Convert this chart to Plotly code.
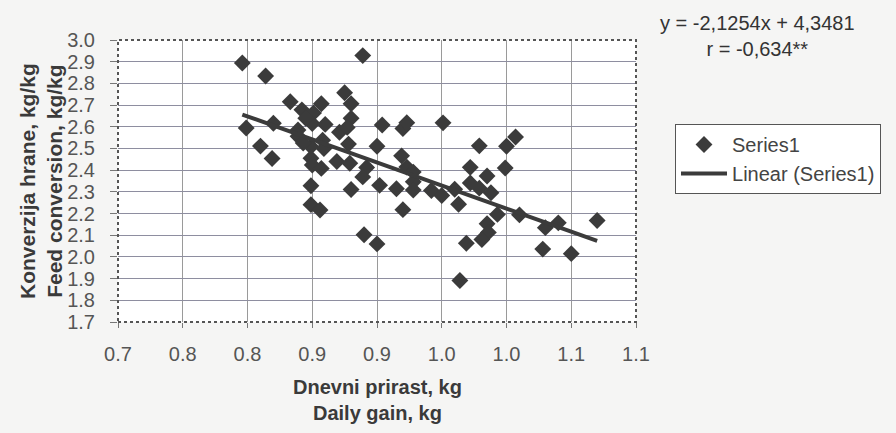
import plotly.graph_objects as go

# Daily gain (kg) and feed conversion (kg/kg)
daily_gain = [0.796, 0.814, 0.833, 0.799, 0.820, 0.810, 0.819, 0.839, 0.842, 0.857,
              0.851, 0.839, 0.850, 0.860, 0.875, 0.880, 0.880, 0.889, 0.871, 0.877,
              0.858, 0.849, 0.859, 0.878, 0.849, 0.850, 0.857, 0.869, 0.879, 0.892,
              0.889, 0.900, 0.904, 0.920, 0.923, 0.951, 0.919, 0.923, 0.928, 0.928,
              0.915, 0.902, 0.928, 0.942, 0.950, 0.849, 0.880, 0.849, 0.856, 0.920,
              0.890, 0.900, 0.979, 1.000, 1.007, 0.972, 0.999, 0.985, 0.972, 0.979,
              0.988, 0.960, 0.963, 0.993, 1.010, 0.985, 0.986, 0.981, 0.969, 1.030,
              1.040, 1.070, 1.028, 1.050, 0.964, 0.845, 0.843]
feed_conversion = [2.894, 2.834, 2.715, 2.594, 2.616, 2.511, 2.454, 2.585, 2.678, 2.706,
                   2.664, 2.556, 2.615, 2.611, 2.757, 2.706, 2.639, 2.928, 2.575, 2.597,
                   2.538, 2.509, 2.500, 2.520, 2.455, 2.424, 2.408, 2.440, 2.432, 2.412,
                   2.369, 2.510, 2.608, 2.592, 2.619, 2.618, 2.466, 2.414, 2.391, 2.346,
                   2.314, 2.330, 2.308, 2.306, 2.283, 2.328, 2.311, 2.241, 2.216, 2.218,
                   2.102, 2.060, 2.512, 2.510, 2.553, 2.413, 2.410, 2.373, 2.341, 2.317,
                   2.296, 2.312, 2.243, 2.196, 2.194, 2.153, 2.113, 2.080, 2.063, 2.135,
                   2.157, 2.168, 2.036, 2.015, 1.891, 2.639, 2.525]

# Regression shown on the chart
slope = -2.1254
intercept = 4.3481

x_tickvals = [0.70, 0.75, 0.80, 0.85, 0.90, 0.95, 1.00, 1.05, 1.10]
x_ticktext = ["0.7", "0.8", "0.8", "0.9", "0.9", "1.0", "1.0", "1.1", "1.1"]

trend_x = [min(daily_gain), max(daily_gain)]
trend_y = [slope * v + intercept for v in trend_x]

FONT = "Arial, Liberation Sans, sans-serif"
MARK = "#3b3b3b"

fig = go.Figure()
fig.add_trace(go.Scatter(
    x=daily_gain, y=feed_conversion, mode="markers", name="Series1",
    legendgroup="a",
    marker=dict(symbol="diamond", size=13, color=MARK, line=dict(width=0)),
))
fig.add_trace(go.Scatter(
    x=trend_x, y=trend_y, mode="lines", name="Linear (Series1)",
    legendgroup="b",
    line=dict(color=MARK, width=4),
))

fig.update_layout(
    width=896, height=433,
    margin=dict(l=118, r=260, t=40, b=111),
    paper_bgcolor="#f5f5f4",
    plot_bgcolor="#ffffff",
    font=dict(family=FONT, color="#444444"),
    showlegend=True,
    legend=dict(
        x=1.0753, y=0.702, xanchor="left", yanchor="top",
        bgcolor="#ffffff", bordercolor="#555555", borderwidth=1,
        font=dict(size=20, color="#444444"),
        tracegroupgap=0, itemwidth=46,
    ),
    xaxis=dict(
        range=[0.70, 1.10], tickvals=x_tickvals, ticktext=x_ticktext,
        showgrid=True, gridcolor="#9a9a9a", gridwidth=1,
        ticks="outside", ticklen=5, tickcolor="#777777",
        tickfont=dict(size=20, color="#555555"),
        ticklabelstandoff=9,
        zeroline=False, showline=False,
    ),
    yaxis=dict(
        range=[1.7, 3.0], dtick=0.1, tick0=1.7, tickformat=".1f",
        showgrid=True, gridcolor="#8e8ea0", gridwidth=1,
        ticks="outside", ticklen=7, tickcolor="#777777",
        tickfont=dict(size=20, color="#555555"),
        ticklabelstandoff=11,
        zeroline=False, showline=False,
    ),
    shapes=[dict(type="rect", xref="paper", yref="paper", x0=0, y0=0, x1=1, y1=1,
                 line=dict(color="#555555", width=2, dash="dot"), layer="above")],
    annotations=[
        dict(text="<b>Konverzija hrane, kg/kg<br>Feed conversion, kg/kg</b>",
             xref="paper", yref="paper", x=0, y=0.5, xanchor="center", yanchor="middle",
             xshift=-77, textangle=-90, showarrow=False,
             font=dict(size=21, color="#3a3a3a")),
        dict(text="<b>Dnevni prirast, kg<br>Daily gain, kg</b>",
             xref="paper", yref="paper", x=0.5, y=0, xanchor="center", yanchor="middle",
             yshift=-78, showarrow=False,
             font=dict(size=20, color="#3a3a3a")),
        dict(text="y = -2,1254x + 4,3481<br>r = -0,634**",
             xref="paper", yref="paper", x=1, y=1, xanchor="center", yanchor="middle",
             xshift=757 - 636, yshift=4, showarrow=False, align="center",
             font=dict(size=20, color="#333333")),
    ],
)

fig.write_html("out.html", config={"displayModeBar": False},
               post_script="document.body.style.margin='0px';")
